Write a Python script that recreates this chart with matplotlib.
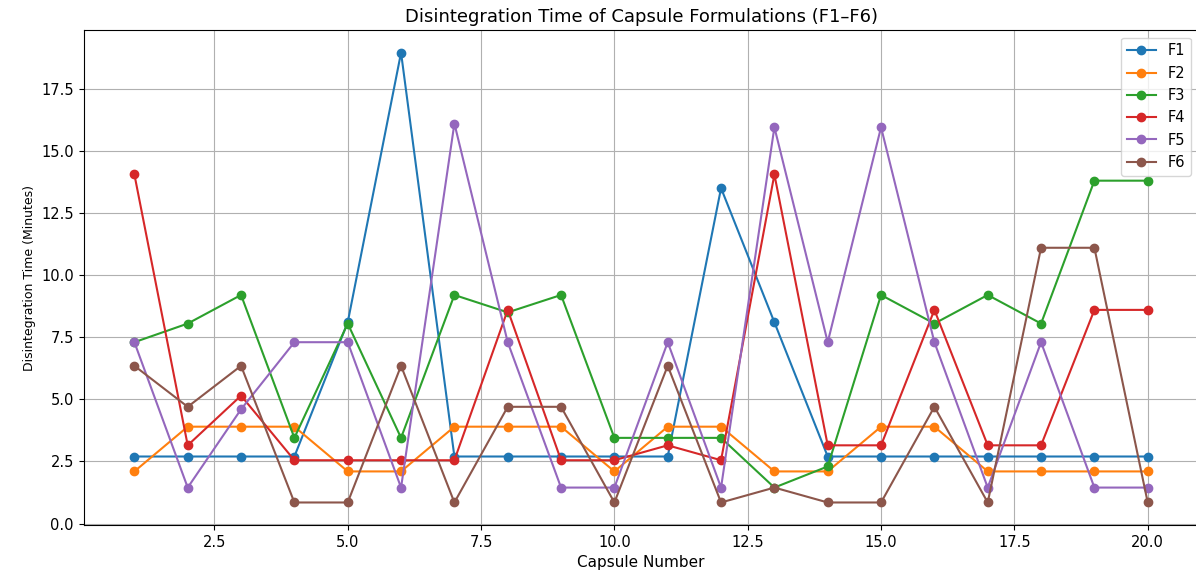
import numpy as np
import matplotlib
matplotlib.use("Agg")
import matplotlib.pyplot as plt

# ---------------------------------------------
# Data (disintegration time, minutes)
# ---------------------------------------------
capsules = list(range(1, 21))

f1 = [2.7, 2.7, 2.7, 2.7, 8.1, 18.95, 2.7, 2.7, 2.7, 2.7,
      2.7, 13.5, 8.1, 2.7, 2.7, 2.7, 2.7, 2.7, 2.7, 2.7]
f2 = [2.1, 3.9, 3.9, 3.9, 2.1, 2.1, 3.9, 3.9, 3.9, 2.1,
      3.9, 3.9, 2.1, 2.1, 3.9, 3.9, 2.1, 2.1, 2.1, 2.1]
f3 = [7.3, 8.05, 9.2, 3.45, 8.05, 3.45, 9.2, 8.5, 9.2, 3.45,
      3.45, 3.45, 1.45, 2.3, 9.2, 8.05, 9.2, 8.05, 13.8, 13.8]
f4 = [14.05, 3.15, 5.15, 2.55, 2.55, 2.55, 2.55, 8.6, 2.55, 2.55,
      3.15, 2.55, 14.05, 3.15, 3.15, 8.6, 3.15, 3.15, 8.6, 8.6]
f5 = [7.3, 1.45, 4.6, 7.3, 7.3, 1.45, 16.1, 7.3, 1.45, 1.45,
      7.3, 1.45, 15.95, 7.3, 15.95, 7.3, 1.45, 7.3, 1.45, 1.45]
f6 = [6.35, 4.7, 6.35, 0.85, 0.85, 6.35, 0.85, 4.7, 4.7, 0.85,
      6.35, 0.85, 1.45, 0.85, 0.85, 4.7, 0.85, 11.1, 11.1, 0.85]

series = {"F1": f1, "F2": f2, "F3": f3, "F4": f4, "F5": f5, "F6": f6}

# ---------------------------------------------
# Plot
# ---------------------------------------------
fig = plt.figure(figsize=(11.96, 5.70), dpi=100)
ax = fig.add_subplot(111)
fig.subplots_adjust(left=0.070, right=1.002, top=0.947, bottom=0.079)

for name, vals in series.items():
    ax.plot(capsules, vals, marker="o", label=name)

ax.set_title("Disintegration Time of Capsule Formulations (F1–F6)", fontsize=13)
ax.set_xlabel("Capsule Number", fontsize=11)
ax.set_ylabel("Disintegration Time (Minutes)", fontsize=9)
ax.tick_params(labelsize=10.5)
ax.grid(True)
ax.legend(loc="upper right", fontsize=10.5)

plt.savefig("out.png")
